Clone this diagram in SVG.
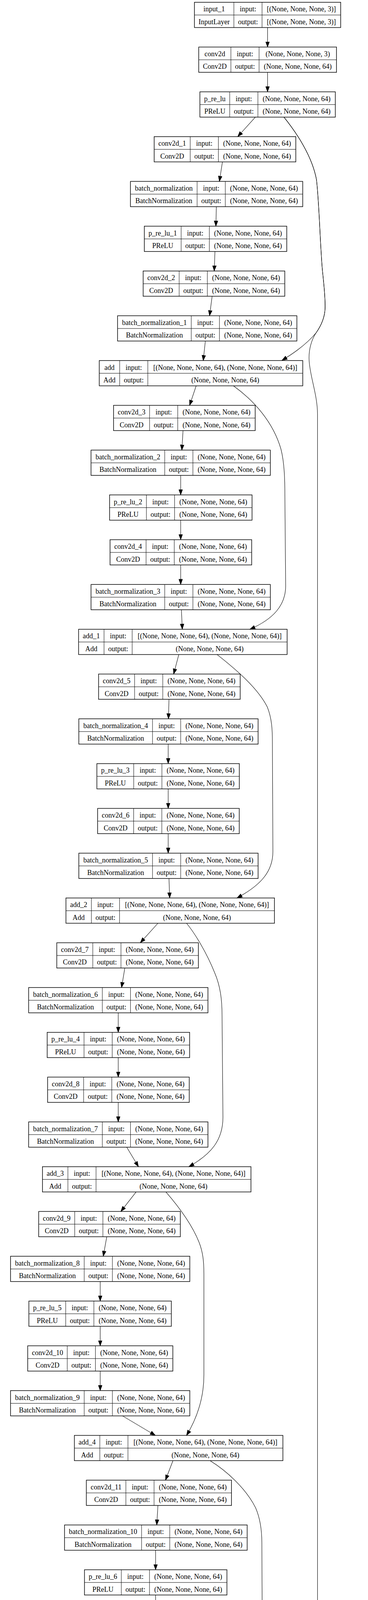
<svg xmlns="http://www.w3.org/2000/svg" xmlns:xlink="http://www.w3.org/1999/xlink" width="943" height="6957" viewBox="0 0 943 6957">
<style>
.fr rect{fill:#fff;stroke:#000;stroke-width:1.5}
.fr path{fill:none;stroke:#000;stroke-width:1}
#nodes{font-family:"Liberation Serif","Times New Roman",serif;font-size:18px;text-anchor:middle;fill:#000}
#edges path{fill:none;stroke:#000;stroke-width:1.1;marker-end:url(#ah)}
</style>
<defs>
<marker id="ah" markerUnits="userSpaceOnUse" markerWidth="15" markerHeight="11" viewBox="0 0 15 11" refX="13.8" refY="5.5" orient="auto"><path d="M0.5,0.8 L13.8,5.5 L0.5,10.2 z" fill="#000" stroke="#000" stroke-width="1"/></marker>
<g id="f_in" class="fr"><rect width="374.7" height="64.7"/><path d="M101 0V64.7M173.2 0V64.7M0 32.6H374.7"/></g>
<g id="f_c0" class="fr"><rect width="353" height="64.7"/><path d="M82.4 0V64.7M154.6 0V64.7M0 32.6H353"/></g>
<g id="f_p0" class="fr"><rect width="347" height="64.7"/><path d="M76.4 0V64.7M148.6 0V64.7M0 32.6H347"/></g>
<g id="f_cN" class="fr"><rect width="362.9" height="64.7"/><path d="M92.3 0V64.7M164.5 0V64.7M0 32.6H362.9"/></g>
<g id="f_bn0" class="fr"><rect width="441.4" height="64.7"/><path d="M170.8 0V64.7M243 0V64.7M0 32.6H441.4"/></g>
<g id="f_pN" class="fr"><rect width="365" height="64.7"/><path d="M94.4 0V64.7M166.6 0V64.7M0 32.6H365"/></g>
<g id="f_bnN" class="fr"><rect width="459.4" height="64.7"/><path d="M188.8 0V64.7M261 0V64.7M0 32.6H459.4"/></g>
<g id="f_add0" class="fr"><rect width="521.4" height="64.7"/><path d="M52.3 0V64.7M124.4 0V64.7M0 32.6H521.4"/></g>
<g id="f_addN" class="fr"><rect width="534.3" height="64.7"/><path d="M65.2 0V64.7M137.3 0V64.7M0 32.6H534.3"/></g>
<g id="f_cNN" class="fr"><rect width="371.9" height="64.7"/><path d="M101.3 0V64.7M173.5 0V64.7M0 32.6H371.9"/></g>
<g id="f_bnNN" class="fr"><rect width="468" height="64.7"/><path d="M197.4 0V64.7M269.6 0V64.7M0 32.6H468"/></g>
<g id="f_c256" class="fr"><rect width="381.2" height="64.7"/><path d="M101 0V64.7M173.1 0V64.7M0 32.6H381.2"/></g>
<g id="f_d2s" class="fr"><rect width="452" height="64.7"/><path d="M172 0V64.7M244.5 0V64.7M0 32.6H452"/></g>
<g id="f_d2s1" class="fr"><rect width="469.7" height="64.7"/><path d="M190.6 0V64.7M262.7 0V64.7M0 32.6H469.7"/></g>
<g id="f_p10" class="fr"><rect width="374.6" height="64.7"/><path d="M104 0V64.7M176.2 0V64.7M0 32.6H374.6"/></g>
</defs>
<rect width="943" height="6957" fill="#fff"/>
<g id="nodes">
<g id="n_input_1" transform="translate(498.3,5.8)"><use href="#f_in"/><text x="50.5" y="23.6">input_1</text><text x="137.1" y="23.6">input:</text><text x="273.95" y="23.6">[(None, None, None, 3)]</text><text x="50.5" y="56">InputLayer</text><text x="137.1" y="56">output:</text><text x="273.95" y="56">[(None, None, None, 3)]</text></g>
<g id="n_conv2d" transform="translate(509.3,120.45)"><use href="#f_c0"/><text x="41.2" y="23.6">conv2d</text><text x="118.5" y="23.6">input:</text><text x="253.8" y="23.6">(None, None, None, 3)</text><text x="41.2" y="56">Conv2D</text><text x="118.5" y="56">output:</text><text x="253.8" y="56">(None, None, None, 64)</text></g>
<g id="n_p_re_lu" transform="translate(512.3,235.1)"><use href="#f_p0"/><text x="38.2" y="23.6">p_re_lu</text><text x="112.5" y="23.6">input:</text><text x="247.8" y="23.6">(None, None, None, 64)</text><text x="38.2" y="56">PReLU</text><text x="112.5" y="56">output:</text><text x="247.8" y="56">(None, None, None, 64)</text></g>
<g id="n_conv2d_1" transform="translate(395.1,349.75)"><use href="#f_cN"/><text x="46.15" y="23.6">conv2d_1</text><text x="128.4" y="23.6">input:</text><text x="263.7" y="23.6">(None, None, None, 64)</text><text x="46.15" y="56">Conv2D</text><text x="128.4" y="56">output:</text><text x="263.7" y="56">(None, None, None, 64)</text></g>
<g id="n_batch_normalization" transform="translate(334.3,464.4)"><use href="#f_bn0"/><text x="85.4" y="23.6">batch_normalization</text><text x="206.9" y="23.6">input:</text><text x="342.2" y="23.6">(None, None, None, 64)</text><text x="85.4" y="56">BatchNormalization</text><text x="206.9" y="56">output:</text><text x="342.2" y="56">(None, None, None, 64)</text></g>
<g id="n_p_re_lu_1" transform="translate(369.8,579.05)"><use href="#f_pN"/><text x="47.2" y="23.6">p_re_lu_1</text><text x="130.5" y="23.6">input:</text><text x="265.8" y="23.6">(None, None, None, 64)</text><text x="47.2" y="56">PReLU</text><text x="130.5" y="56">output:</text><text x="265.8" y="56">(None, None, None, 64)</text></g>
<g id="n_conv2d_2" transform="translate(366.8,693.7)"><use href="#f_cN"/><text x="46.15" y="23.6">conv2d_2</text><text x="128.4" y="23.6">input:</text><text x="263.7" y="23.6">(None, None, None, 64)</text><text x="46.15" y="56">Conv2D</text><text x="128.4" y="56">output:</text><text x="263.7" y="56">(None, None, None, 64)</text></g>
<g id="n_batch_normalization_1" transform="translate(301.3,808.35)"><use href="#f_bnN"/><text x="94.4" y="23.6">batch_normalization_1</text><text x="224.9" y="23.6">input:</text><text x="360.2" y="23.6">(None, None, None, 64)</text><text x="94.4" y="56">BatchNormalization</text><text x="224.9" y="56">output:</text><text x="360.2" y="56">(None, None, None, 64)</text></g>
<g id="n_add" transform="translate(254.4,923)"><use href="#f_add0"/><text x="26.15" y="23.6">add</text><text x="88.35" y="23.6">input:</text><text x="322.9" y="23.6">[(None, None, None, 64), (None, None, None, 64)]</text><text x="26.15" y="56">Add</text><text x="88.35" y="56">output:</text><text x="322.9" y="56">(None, None, None, 64)</text></g>
<g id="n_conv2d_3" transform="translate(291,1037.65)"><use href="#f_cN"/><text x="46.15" y="23.6">conv2d_3</text><text x="128.4" y="23.6">input:</text><text x="263.7" y="23.6">(None, None, None, 64)</text><text x="46.15" y="56">Conv2D</text><text x="128.4" y="56">output:</text><text x="263.7" y="56">(None, None, None, 64)</text></g>
<g id="n_batch_normalization_2" transform="translate(233.3,1152.3)"><use href="#f_bnN"/><text x="94.4" y="23.6">batch_normalization_2</text><text x="224.9" y="23.6">input:</text><text x="360.2" y="23.6">(None, None, None, 64)</text><text x="94.4" y="56">BatchNormalization</text><text x="224.9" y="56">output:</text><text x="360.2" y="56">(None, None, None, 64)</text></g>
<g id="n_p_re_lu_2" transform="translate(280.8,1266.95)"><use href="#f_pN"/><text x="47.2" y="23.6">p_re_lu_2</text><text x="130.5" y="23.6">input:</text><text x="265.8" y="23.6">(None, None, None, 64)</text><text x="47.2" y="56">PReLU</text><text x="130.5" y="56">output:</text><text x="265.8" y="56">(None, None, None, 64)</text></g>
<g id="n_conv2d_4" transform="translate(282,1381.6)"><use href="#f_cN"/><text x="46.15" y="23.6">conv2d_4</text><text x="128.4" y="23.6">input:</text><text x="263.7" y="23.6">(None, None, None, 64)</text><text x="46.15" y="56">Conv2D</text><text x="128.4" y="56">output:</text><text x="263.7" y="56">(None, None, None, 64)</text></g>
<g id="n_batch_normalization_3" transform="translate(233.3,1496.25)"><use href="#f_bnN"/><text x="94.4" y="23.6">batch_normalization_3</text><text x="224.9" y="23.6">input:</text><text x="360.2" y="23.6">(None, None, None, 64)</text><text x="94.4" y="56">BatchNormalization</text><text x="224.9" y="56">output:</text><text x="360.2" y="56">(None, None, None, 64)</text></g>
<g id="n_add_1" transform="translate(201.4,1610.9)"><use href="#f_addN"/><text x="32.6" y="23.6">add_1</text><text x="101.25" y="23.6">input:</text><text x="335.8" y="23.6">[(None, None, None, 64), (None, None, None, 64)]</text><text x="32.6" y="56">Add</text><text x="101.25" y="56">output:</text><text x="335.8" y="56">(None, None, None, 64)</text></g>
<g id="n_conv2d_5" transform="translate(252.6,1725.55)"><use href="#f_cN"/><text x="46.15" y="23.6">conv2d_5</text><text x="128.4" y="23.6">input:</text><text x="263.7" y="23.6">(None, None, None, 64)</text><text x="46.15" y="56">Conv2D</text><text x="128.4" y="56">output:</text><text x="263.7" y="56">(None, None, None, 64)</text></g>
<g id="n_batch_normalization_4" transform="translate(202,1840.2)"><use href="#f_bnN"/><text x="94.4" y="23.6">batch_normalization_4</text><text x="224.9" y="23.6">input:</text><text x="360.2" y="23.6">(None, None, None, 64)</text><text x="94.4" y="56">BatchNormalization</text><text x="224.9" y="56">output:</text><text x="360.2" y="56">(None, None, None, 64)</text></g>
<g id="n_p_re_lu_3" transform="translate(248.3,1954.85)"><use href="#f_pN"/><text x="47.2" y="23.6">p_re_lu_3</text><text x="130.5" y="23.6">input:</text><text x="265.8" y="23.6">(None, None, None, 64)</text><text x="47.2" y="56">PReLU</text><text x="130.5" y="56">output:</text><text x="265.8" y="56">(None, None, None, 64)</text></g>
<g id="n_conv2d_6" transform="translate(250.2,2069.5)"><use href="#f_cN"/><text x="46.15" y="23.6">conv2d_6</text><text x="128.4" y="23.6">input:</text><text x="263.7" y="23.6">(None, None, None, 64)</text><text x="46.15" y="56">Conv2D</text><text x="128.4" y="56">output:</text><text x="263.7" y="56">(None, None, None, 64)</text></g>
<g id="n_batch_normalization_5" transform="translate(202,2184.15)"><use href="#f_bnN"/><text x="94.4" y="23.6">batch_normalization_5</text><text x="224.9" y="23.6">input:</text><text x="360.2" y="23.6">(None, None, None, 64)</text><text x="94.4" y="56">BatchNormalization</text><text x="224.9" y="56">output:</text><text x="360.2" y="56">(None, None, None, 64)</text></g>
<g id="n_add_2" transform="translate(169,2298.8)"><use href="#f_addN"/><text x="32.6" y="23.6">add_2</text><text x="101.25" y="23.6">input:</text><text x="335.8" y="23.6">[(None, None, None, 64), (None, None, None, 64)]</text><text x="32.6" y="56">Add</text><text x="101.25" y="56">output:</text><text x="335.8" y="56">(None, None, None, 64)</text></g>
<g id="n_conv2d_7" transform="translate(145.5,2413.45)"><use href="#f_cN"/><text x="46.15" y="23.6">conv2d_7</text><text x="128.4" y="23.6">input:</text><text x="263.7" y="23.6">(None, None, None, 64)</text><text x="46.15" y="56">Conv2D</text><text x="128.4" y="56">output:</text><text x="263.7" y="56">(None, None, None, 64)</text></g>
<g id="n_batch_normalization_6" transform="translate(73.4,2528.1)"><use href="#f_bnN"/><text x="94.4" y="23.6">batch_normalization_6</text><text x="224.9" y="23.6">input:</text><text x="360.2" y="23.6">(None, None, None, 64)</text><text x="94.4" y="56">BatchNormalization</text><text x="224.9" y="56">output:</text><text x="360.2" y="56">(None, None, None, 64)</text></g>
<g id="n_p_re_lu_4" transform="translate(120.9,2642.75)"><use href="#f_pN"/><text x="47.2" y="23.6">p_re_lu_4</text><text x="130.5" y="23.6">input:</text><text x="265.8" y="23.6">(None, None, None, 64)</text><text x="47.2" y="56">PReLU</text><text x="130.5" y="56">output:</text><text x="265.8" y="56">(None, None, None, 64)</text></g>
<g id="n_conv2d_8" transform="translate(122,2757.4)"><use href="#f_cN"/><text x="46.15" y="23.6">conv2d_8</text><text x="128.4" y="23.6">input:</text><text x="263.7" y="23.6">(None, None, None, 64)</text><text x="46.15" y="56">Conv2D</text><text x="128.4" y="56">output:</text><text x="263.7" y="56">(None, None, None, 64)</text></g>
<g id="n_batch_normalization_7" transform="translate(73.4,2872.05)"><use href="#f_bnN"/><text x="94.4" y="23.6">batch_normalization_7</text><text x="224.9" y="23.6">input:</text><text x="360.2" y="23.6">(None, None, None, 64)</text><text x="94.4" y="56">BatchNormalization</text><text x="224.9" y="56">output:</text><text x="360.2" y="56">(None, None, None, 64)</text></g>
<g id="n_add_3" transform="translate(108.8,2986.7)"><use href="#f_addN"/><text x="32.6" y="23.6">add_3</text><text x="101.25" y="23.6">input:</text><text x="335.8" y="23.6">[(None, None, None, 64), (None, None, None, 64)]</text><text x="32.6" y="56">Add</text><text x="101.25" y="56">output:</text><text x="335.8" y="56">(None, None, None, 64)</text></g>
<g id="n_conv2d_9" transform="translate(99.2,3101.35)"><use href="#f_cN"/><text x="46.15" y="23.6">conv2d_9</text><text x="128.4" y="23.6">input:</text><text x="263.7" y="23.6">(None, None, None, 64)</text><text x="46.15" y="56">Conv2D</text><text x="128.4" y="56">output:</text><text x="263.7" y="56">(None, None, None, 64)</text></g>
<g id="n_batch_normalization_8" transform="translate(27,3216)"><use href="#f_bnN"/><text x="94.4" y="23.6">batch_normalization_8</text><text x="224.9" y="23.6">input:</text><text x="360.2" y="23.6">(None, None, None, 64)</text><text x="94.4" y="56">BatchNormalization</text><text x="224.9" y="56">output:</text><text x="360.2" y="56">(None, None, None, 64)</text></g>
<g id="n_p_re_lu_5" transform="translate(74,3330.65)"><use href="#f_pN"/><text x="47.2" y="23.6">p_re_lu_5</text><text x="130.5" y="23.6">input:</text><text x="265.8" y="23.6">(None, None, None, 64)</text><text x="47.2" y="56">PReLU</text><text x="130.5" y="56">output:</text><text x="265.8" y="56">(None, None, None, 64)</text></g>
<g id="n_conv2d_10" transform="translate(71,3445.3)"><use href="#f_cNN"/><text x="50.65" y="23.6">conv2d_10</text><text x="137.4" y="23.6">input:</text><text x="272.7" y="23.6">(None, None, None, 64)</text><text x="50.65" y="56">Conv2D</text><text x="137.4" y="56">output:</text><text x="272.7" y="56">(None, None, None, 64)</text></g>
<g id="n_batch_normalization_9" transform="translate(27,3559.95)"><use href="#f_bnN"/><text x="94.4" y="23.6">batch_normalization_9</text><text x="224.9" y="23.6">input:</text><text x="360.2" y="23.6">(None, None, None, 64)</text><text x="94.4" y="56">BatchNormalization</text><text x="224.9" y="56">output:</text><text x="360.2" y="56">(None, None, None, 64)</text></g>
<g id="n_add_4" transform="translate(190.6,3674.6)"><use href="#f_addN"/><text x="32.6" y="23.6">add_4</text><text x="101.25" y="23.6">input:</text><text x="335.8" y="23.6">[(None, None, None, 64), (None, None, None, 64)]</text><text x="32.6" y="56">Add</text><text x="101.25" y="56">output:</text><text x="335.8" y="56">(None, None, None, 64)</text></g>
<g id="n_conv2d_11" transform="translate(221.3,3789.25)"><use href="#f_cNN"/><text x="50.65" y="23.6">conv2d_11</text><text x="137.4" y="23.6">input:</text><text x="272.7" y="23.6">(None, None, None, 64)</text><text x="50.65" y="56">Conv2D</text><text x="137.4" y="56">output:</text><text x="272.7" y="56">(None, None, None, 64)</text></g>
<g id="n_batch_normalization_10" transform="translate(165.4,3903.9)"><use href="#f_bnNN"/><text x="98.7" y="23.6">batch_normalization_10</text><text x="233.5" y="23.6">input:</text><text x="368.8" y="23.6">(None, None, None, 64)</text><text x="98.7" y="56">BatchNormalization</text><text x="233.5" y="56">output:</text><text x="368.8" y="56">(None, None, None, 64)</text></g>
<g id="n_p_re_lu_6" transform="translate(216.5,4018.55)"><use href="#f_pN"/><text x="47.2" y="23.6">p_re_lu_6</text><text x="130.5" y="23.6">input:</text><text x="265.8" y="23.6">(None, None, None, 64)</text><text x="47.2" y="56">PReLU</text><text x="130.5" y="56">output:</text><text x="265.8" y="56">(None, None, None, 64)</text></g>
<g id="n_conv2d_12" transform="translate(213.5,4133.2)"><use href="#f_cNN"/><text x="50.65" y="23.6">conv2d_12</text><text x="137.4" y="23.6">input:</text><text x="272.7" y="23.6">(None, None, None, 64)</text><text x="50.65" y="56">Conv2D</text><text x="137.4" y="56">output:</text><text x="272.7" y="56">(None, None, None, 64)</text></g>
<g id="n_batch_normalization_11" transform="translate(165.4,4247.85)"><use href="#f_bnNN"/><text x="98.7" y="23.6">batch_normalization_11</text><text x="233.5" y="23.6">input:</text><text x="368.8" y="23.6">(None, None, None, 64)</text><text x="98.7" y="56">BatchNormalization</text><text x="233.5" y="56">output:</text><text x="368.8" y="56">(None, None, None, 64)</text></g>
<g id="n_add_5" transform="translate(131.7,4362.5)"><use href="#f_addN"/><text x="32.6" y="23.6">add_5</text><text x="101.25" y="23.6">input:</text><text x="335.8" y="23.6">[(None, None, None, 64), (None, None, None, 64)]</text><text x="32.6" y="56">Add</text><text x="101.25" y="56">output:</text><text x="335.8" y="56">(None, None, None, 64)</text></g>
<g id="n_conv2d_13" transform="translate(77,4477.15)"><use href="#f_cNN"/><text x="50.65" y="23.6">conv2d_13</text><text x="137.4" y="23.6">input:</text><text x="272.7" y="23.6">(None, None, None, 64)</text><text x="50.65" y="56">Conv2D</text><text x="137.4" y="56">output:</text><text x="272.7" y="56">(None, None, None, 64)</text></g>
<g id="n_batch_normalization_12" transform="translate(4.8,4591.8)"><use href="#f_bnNN"/><text x="98.7" y="23.6">batch_normalization_12</text><text x="233.5" y="23.6">input:</text><text x="368.8" y="23.6">(None, None, None, 64)</text><text x="98.7" y="56">BatchNormalization</text><text x="233.5" y="56">output:</text><text x="368.8" y="56">(None, None, None, 64)</text></g>
<g id="n_p_re_lu_7" transform="translate(56.5,4706.45)"><use href="#f_pN"/><text x="47.2" y="23.6">p_re_lu_7</text><text x="130.5" y="23.6">input:</text><text x="265.8" y="23.6">(None, None, None, 64)</text><text x="47.2" y="56">PReLU</text><text x="130.5" y="56">output:</text><text x="265.8" y="56">(None, None, None, 64)</text></g>
<g id="n_conv2d_14" transform="translate(52.9,4821.1)"><use href="#f_cNN"/><text x="50.65" y="23.6">conv2d_14</text><text x="137.4" y="23.6">input:</text><text x="272.7" y="23.6">(None, None, None, 64)</text><text x="50.65" y="56">Conv2D</text><text x="137.4" y="56">output:</text><text x="272.7" y="56">(None, None, None, 64)</text></g>
<g id="n_batch_normalization_13" transform="translate(4.8,4935.75)"><use href="#f_bnNN"/><text x="98.7" y="23.6">batch_normalization_13</text><text x="233.5" y="23.6">input:</text><text x="368.8" y="23.6">(None, None, None, 64)</text><text x="98.7" y="56">BatchNormalization</text><text x="233.5" y="56">output:</text><text x="368.8" y="56">(None, None, None, 64)</text></g>
<g id="n_add_6" transform="translate(150.3,5050.4)"><use href="#f_addN"/><text x="32.6" y="23.6">add_6</text><text x="101.25" y="23.6">input:</text><text x="335.8" y="23.6">[(None, None, None, 64), (None, None, None, 64)]</text><text x="32.6" y="56">Add</text><text x="101.25" y="56">output:</text><text x="335.8" y="56">(None, None, None, 64)</text></g>
<g id="n_conv2d_15" transform="translate(223.7,5165.05)"><use href="#f_cNN"/><text x="50.65" y="23.6">conv2d_15</text><text x="137.4" y="23.6">input:</text><text x="272.7" y="23.6">(None, None, None, 64)</text><text x="50.65" y="56">Conv2D</text><text x="137.4" y="56">output:</text><text x="272.7" y="56">(None, None, None, 64)</text></g>
<g id="n_batch_normalization_14" transform="translate(172,5279.7)"><use href="#f_bnNN"/><text x="98.7" y="23.6">batch_normalization_14</text><text x="233.5" y="23.6">input:</text><text x="368.8" y="23.6">(None, None, None, 64)</text><text x="98.7" y="56">BatchNormalization</text><text x="233.5" y="56">output:</text><text x="368.8" y="56">(None, None, None, 64)</text></g>
<g id="n_p_re_lu_8" transform="translate(223.1,5394.35)"><use href="#f_pN"/><text x="47.2" y="23.6">p_re_lu_8</text><text x="130.5" y="23.6">input:</text><text x="265.8" y="23.6">(None, None, None, 64)</text><text x="47.2" y="56">PReLU</text><text x="130.5" y="56">output:</text><text x="265.8" y="56">(None, None, None, 64)</text></g>
<g id="n_conv2d_16" transform="translate(220.1,5509)"><use href="#f_cNN"/><text x="50.65" y="23.6">conv2d_16</text><text x="137.4" y="23.6">input:</text><text x="272.7" y="23.6">(None, None, None, 64)</text><text x="50.65" y="56">Conv2D</text><text x="137.4" y="56">output:</text><text x="272.7" y="56">(None, None, None, 64)</text></g>
<g id="n_batch_normalization_15" transform="translate(172,5623.65)"><use href="#f_bnNN"/><text x="98.7" y="23.6">batch_normalization_15</text><text x="233.5" y="23.6">input:</text><text x="368.8" y="23.6">(None, None, None, 64)</text><text x="98.7" y="56">BatchNormalization</text><text x="233.5" y="56">output:</text><text x="368.8" y="56">(None, None, None, 64)</text></g>
<g id="n_add_7" transform="translate(241.1,5738.3)"><use href="#f_addN"/><text x="32.6" y="23.6">add_7</text><text x="101.25" y="23.6">input:</text><text x="335.8" y="23.6">[(None, None, None, 64), (None, None, None, 64)]</text><text x="32.6" y="56">Add</text><text x="101.25" y="56">output:</text><text x="335.8" y="56">(None, None, None, 64)</text></g>
<g id="n_conv2d_17" transform="translate(331.9,5852.95)"><use href="#f_cNN"/><text x="50.65" y="23.6">conv2d_17</text><text x="137.4" y="23.6">input:</text><text x="272.7" y="23.6">(None, None, None, 64)</text><text x="50.65" y="56">Conv2D</text><text x="137.4" y="56">output:</text><text x="272.7" y="56">(None, None, None, 64)</text></g>
<g id="n_batch_normalization_16" transform="translate(300.1,5967.6)"><use href="#f_bnNN"/><text x="98.7" y="23.6">batch_normalization_16</text><text x="233.5" y="23.6">input:</text><text x="368.8" y="23.6">(None, None, None, 64)</text><text x="98.7" y="56">BatchNormalization</text><text x="233.5" y="56">output:</text><text x="368.8" y="56">(None, None, None, 64)</text></g>
<g id="n_add_8" transform="translate(402.3,6082.25)"><use href="#f_addN"/><text x="32.6" y="23.6">add_8</text><text x="101.25" y="23.6">input:</text><text x="335.8" y="23.6">[(None, None, None, 64), (None, None, None, 64)]</text><text x="32.6" y="56">Add</text><text x="101.25" y="56">output:</text><text x="335.8" y="56">(None, None, None, 64)</text></g>
<g id="n_conv2d_18" transform="translate(479.3,6196.9)"><use href="#f_c256"/><text x="50.5" y="23.6">conv2d_18</text><text x="137.05" y="23.6">input:</text><text x="277.15" y="23.6">(None, None, None, 64)</text><text x="50.5" y="56">Conv2D</text><text x="137.05" y="56">output:</text><text x="277.15" y="56">(None, None, None, 256)</text></g>
<g id="n_tf_nn_depth_to_space" transform="translate(443.8,6311.55)"><use href="#f_d2s"/><text x="86" y="23.6">tf.nn.depth_to_space</text><text x="208.25" y="23.6">input:</text><text x="348.25" y="23.6">(None, None, None, 256)</text><text x="86" y="56">TFOpLambda</text><text x="208.25" y="56">output:</text><text x="348.25" y="56">(None, None, None, 64)</text></g>
<g id="n_p_re_lu_9" transform="translate(487.1,6426.2)"><use href="#f_pN"/><text x="47.2" y="23.6">p_re_lu_9</text><text x="130.5" y="23.6">input:</text><text x="265.8" y="23.6">(None, None, None, 64)</text><text x="47.2" y="56">PReLU</text><text x="130.5" y="56">output:</text><text x="265.8" y="56">(None, None, None, 64)</text></g>
<g id="n_conv2d_19" transform="translate(479.3,6540.85)"><use href="#f_c256"/><text x="50.5" y="23.6">conv2d_19</text><text x="137.05" y="23.6">input:</text><text x="277.15" y="23.6">(None, None, None, 64)</text><text x="50.5" y="56">Conv2D</text><text x="137.05" y="56">output:</text><text x="277.15" y="56">(None, None, None, 256)</text></g>
<g id="n_tf_nn_depth_to_space_1" transform="translate(434.8,6655.5)"><use href="#f_d2s1"/><text x="95.3" y="23.6">tf.nn.depth_to_space_1</text><text x="226.65" y="23.6">input:</text><text x="366.2" y="23.6">(None, None, None, 256)</text><text x="95.3" y="56">TFOpLambda</text><text x="226.65" y="56">output:</text><text x="366.2" y="56">(None, None, None, 64)</text></g>
<g id="n_p_re_lu_10" transform="translate(482.3,6770.15)"><use href="#f_p10"/><text x="52" y="23.6">p_re_lu_10</text><text x="140.1" y="23.6">input:</text><text x="275.4" y="23.6">(None, None, None, 64)</text><text x="52" y="56">PReLU</text><text x="140.1" y="56">output:</text><text x="275.4" y="56">(None, None, None, 64)</text></g>
<g id="n_conv2d_20" transform="translate(483.5,6884.8)"><use href="#f_cNN"/><text x="50.65" y="23.6">conv2d_20</text><text x="137.4" y="23.6">input:</text><text x="272.7" y="23.6">(None, None, None, 64)</text><text x="50.65" y="56">Conv2D</text><text x="137.4" y="56">output:</text><text x="272.7" y="56">(None, None, None, 3)</text></g>
</g>
<g id="edges">
<path d="M685.6,70.5 L685.6,120.45"/>
<path d="M685.6,185.15 L685.6,235.1"/>
<path d="M654.3,299.8 L609.2,349.75"/>
<path d="M570,414.45 L562.2,464.4"/>
<path d="M554.4,529.1 L553.2,579.05"/>
<path d="M550.8,643.75 L549,693.7"/>
<path d="M543.6,758.4 L537,808.35"/>
<path d="M526.2,873.05 L520.8,923"/>
<path d="M502.7,987.7 L485.9,1037.65"/>
<path d="M469,1102.35 L466,1152.3"/>
<path d="M463,1217 L463,1266.95"/>
<path d="M463,1331.65 L463,1381.6"/>
<path d="M463,1446.3 L463,1496.25"/>
<path d="M464.8,1560.95 L467.2,1610.9"/>
<path d="M458.2,1675.6 L445,1725.55"/>
<path d="M433,1790.25 L431.7,1840.2"/>
<path d="M431,1904.9 L431,1954.85"/>
<path d="M431,2019.55 L431,2069.5"/>
<path d="M431,2134.2 L431,2184.15"/>
<path d="M433,2248.85 L434.8,2298.8"/>
<path d="M404.7,2363.5 L359.6,2413.45"/>
<path d="M319.9,2478.15 L311.5,2528.1"/>
<path d="M303,2592.8 L303,2642.75"/>
<path d="M303,2707.45 L303,2757.4"/>
<path d="M303,2822.1 L303,2872.05"/>
<path d="M324.7,2936.75 L354.8,2986.7"/>
<path d="M348.8,3051.4 L309.7,3101.35"/>
<path d="M273.6,3166.05 L264.6,3216"/>
<path d="M256.8,3280.7 L256.8,3330.65"/>
<path d="M256.8,3395.35 L256.8,3445.3"/>
<path d="M256.8,3510 L256.8,3559.95"/>
<path d="M313.9,3624.65 L398,3674.6"/>
<path d="M443.2,3739.3 L424,3789.25"/>
<path d="M404.7,3853.95 L401.7,3903.9"/>
<path d="M398.7,3968.6 L398.7,4018.55"/>
<path d="M398.7,4083.25 L398.7,4133.2"/>
<path d="M398.7,4197.9 L398.7,4247.85"/>
<path d="M398.7,4312.55 L398.7,4362.5"/>
<path d="M359.6,4427.2 L305.5,4477.15"/>
<path d="M256.2,4541.85 L247.1,4591.8"/>
<path d="M239.3,4656.5 L239.3,4706.45"/>
<path d="M239.3,4771.15 L239.3,4821.1"/>
<path d="M239.3,4885.8 L239.3,4935.75"/>
<path d="M290.4,5000.45 L365.6,5050.4"/>
<path d="M414.9,5115.1 L412.5,5165.05"/>
<path d="M408.9,5229.75 L407.1,5279.7"/>
<path d="M405.9,5344.4 L405.9,5394.35"/>
<path d="M405.9,5459.05 L405.9,5509"/>
<path d="M405.9,5573.7 L405.9,5623.65"/>
<path d="M435.4,5688.35 L478,5738.3"/>
<path d="M511.7,5803 L514.1,5852.95"/>
<path d="M523.1,5917.65 L527.4,5967.6"/>
<path d="M573.1,6032.3 L629,6082.25"/>
<path d="M669.5,6146.95 L669.5,6196.9"/>
<path d="M669.5,6261.6 L669.5,6311.55"/>
<path d="M669.5,6376.25 L669.5,6426.2"/>
<path d="M669.5,6490.9 L669.5,6540.85"/>
<path d="M669.5,6605.55 L669.5,6655.5"/>
<path d="M669.5,6720.2 L669.5,6770.15"/>
<path d="M669.5,6834.85 L669.5,6884.8"/>
<path d="M727.6,299.8 C760,340 800,400 811,460 C818,520 820,620 826,690 C830,730 834,760 833,790 C832,815 822,835 810,852 C790,876 760,900 722.5,922.5"/>
<path d="M727.6,299.8 C760,340 800,400 811,460 C818,520 820,620 826,690 C830,730 834,760 833,790 C832,815 822,835 810,852 C798,870 791,895 792,920 C793,960 813.6,1010 813.6,1060 L813.6,5940 C813.6,6000 790,6045 730.6,6082.25"/>
<path d="M598.3,987.7 C650,1025 700,1080 720,1150 C729,1185 730,1230 730,1270 L732,1500 C732,1550 700,1585 640.4,1610.9"/>
<path d="M556.2,1675.6 C600,1710 660,1760 685,1810 C697,1840 698,1870 698,1900 L699.3,2180 C699.3,2230 670,2265 607.3,2298.8"/>
<path d="M478,2363.5 C500,2390 530,2440 550,2490 C565,2525 569,2560 569,2600 L571.3,2860 C571.3,2920 540,2955 484,2986.7"/>
<path d="M425.1,3051.4 C450,3080 490,3130 510,3180 C520,3205 522.5,3230 522.5,3260 L522.5,3520 C522.5,3580 505,3630 478,3674.6"/>
<path d="M538.2,3739.3 C580,3765 630,3810 655,3860 C668,3890 671,3920 671,3950 L672.3,4230 C672.3,4290 640,4325 583.3,4362.5"/>
<path d="M427,4427.2 C450,4470 490,4530 505,4580 C510,4600 510.5,4620 510.5,4650 L510.5,4900 C510.5,4960 490,5010 452.2,5050.4"/>
<path d="M529.2,5115.1 C570,5140 630,5180 660,5230 C675,5260 678,5290 678,5320 L679.5,5600 C679.5,5660 650,5700 595.3,5738.3"/>
</g>
</svg>
